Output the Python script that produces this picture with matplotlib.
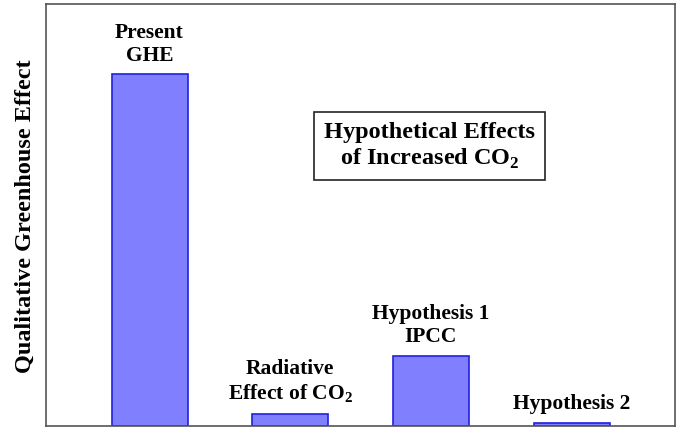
import numpy as np
import matplotlib.pyplot as plt

# Bar labels and qualitative heights (Present GHE = 100)
etiquetas = ['Present\nGHE', 'Radiative\nEffect of CO$_\\mathbf{2}$',
             'Hypothesis 1\nIPCC', 'Hypothesis 2']
alturas = [100, 3.4, 20, 0.9]

plt.rcParams['font.family'] = ['Liberation Serif', 'DejaVu Serif']
plt.rcParams['mathtext.fontset'] = 'custom'
plt.rcParams['mathtext.rm'] = 'Liberation Serif:bold'
plt.rcParams['mathtext.bf'] = 'Liberation Serif:bold'

fig = plt.figure(figsize=(6.8, 4.31), dpi=100)
ax = fig.add_axes([46 / 680, 4 / 431, 629 / 680, 422 / 431])

x = np.arange(len(alturas))
barras = ax.bar(x, alturas, width=0.54, color='#8080FF', edgecolor='#2020E0', linewidth=1.2)

# Labels above each bar
for xi, h, txt in zip(x, alturas, etiquetas):
    ax.annotate(txt, (xi, h), xytext=(0, 7), textcoords='offset points',
                ha='center', va='bottom', fontsize=15.5, fontweight='bold',
                linespacing=1.2)

ax.set_xlim(-0.736, 3.735)
ax.set_ylim(0, 120)
ax.set_xticks([])
ax.set_yticks([])
for s in ax.spines.values():
    s.set_color('#555555')
    s.set_linewidth(1.2)

ax.set_ylabel('Qualitative Greenhouse Effect', fontsize=17.5, fontweight='bold', labelpad=7.5)

ax.text(0.61, 0.665, 'Hypothetical Effects\nof Increased CO$_\\mathbf{2}$',
        transform=ax.transAxes, ha='center', va='center', fontsize=17.5,
        fontweight='bold', linespacing=1.2,
        bbox=dict(boxstyle='square,pad=0.42', facecolor='white', edgecolor='#222222', linewidth=1.2))

fig.savefig('out.png', dpi=100)
